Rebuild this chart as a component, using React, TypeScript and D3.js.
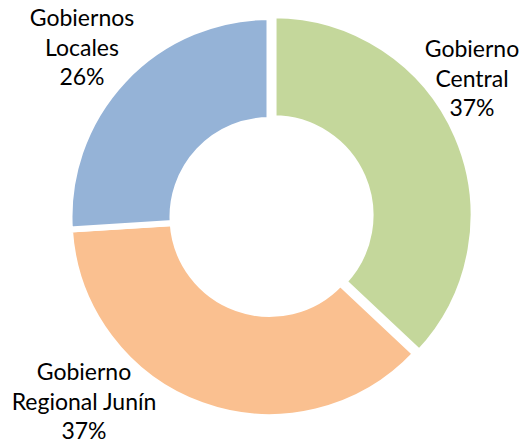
import React from "react";
import * as d3 from "d3";

const categories = ["Gobierno Central", "Gobierno Regional Junín", "Gobiernos Locales"];
const values = [37, 37, 26];
const labelLines = [
  ["Gobierno", "Central", "37%"],
  ["Gobierno", "Regional Junín", "37%"],
  ["Gobiernos", "Locales", "26%"],
];
const colors = ["#C4D79B", "#FAC090", "#95B3D7"];
const explode = [4.4, 0, 0];
// label anchor (center x, first baseline y) – layout only
const labelAnchors = [
  [472, 57],
  [84, 380],
  [82, 26],
];

const W = 523;
const H = 442;
const cx = 269.5;
const cy = 217;
const outerR = 200;
const innerR = 97;

export default function App() {
  const pie = d3
    .pie<number>()
    .sort(null)
    .value((d) => d)
    .startAngle(0)
    .endAngle(2 * Math.PI);
  const arcs = pie(values);
  const arcGen = d3
    .arc<d3.PieArcDatum<number>>()
    .innerRadius(innerR)
    .outerRadius(outerR);

  return (
    <svg
      width={W}
      height={H}
      style={{ position: "absolute", left: 0, top: 0, background: "#fff" }}
    >
      <g transform={`translate(${cx},${cy})`}>
        {arcs.map((a, i) => {
          const mid = (a.startAngle + a.endAngle) / 2;
          const dx = Math.sin(mid) * explode[i];
          const dy = -Math.cos(mid) * explode[i];
          return (
            <path
              key={categories[i]}
              d={arcGen(a) || ""}
              transform={`translate(${dx},${dy})`}
              fill={colors[i]}
              stroke="#fff"
              strokeWidth={6}
              strokeLinejoin="miter"
            />
          );
        })}
      </g>
      {labelLines.map((lines, i) => (
        <text
          key={"l" + i}
          x={labelAnchors[i][0]}
          y={labelAnchors[i][1]}
          textAnchor="middle"
          fontFamily="Lato, 'Open Sans', sans-serif"
          fontSize={23}
          fill="#000"
        >
          {lines.map((t, j) => (
            <tspan key={j} x={labelAnchors[i][0]} dy={j === 0 ? 0 : 29.5}>
              {t}
            </tspan>
          ))}
        </text>
      ))}
    </svg>
  );
}
